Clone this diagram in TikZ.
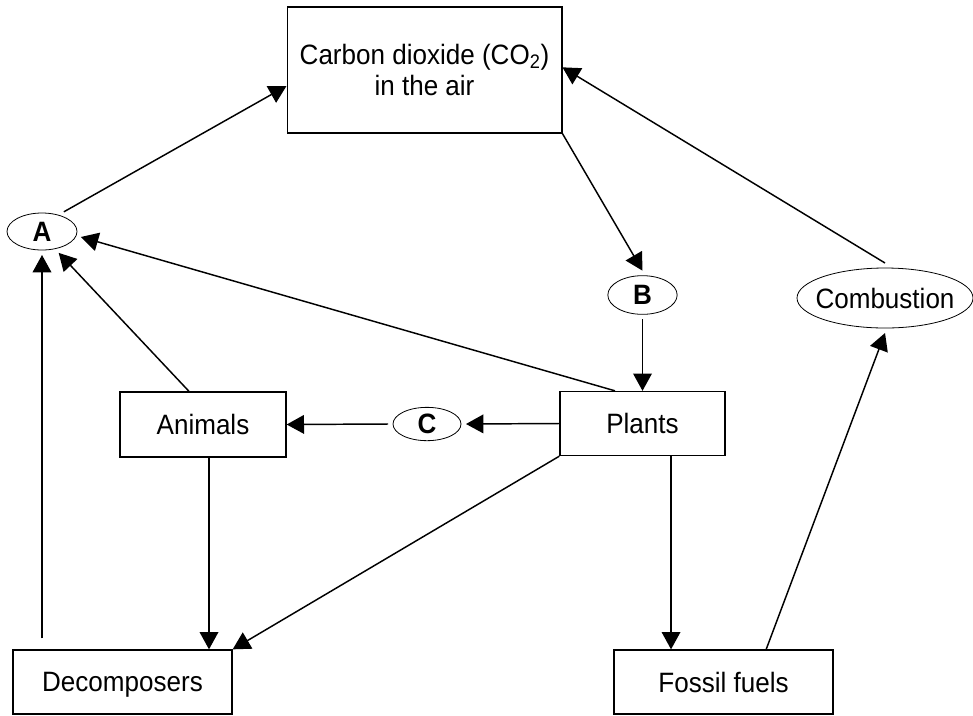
\documentclass[tikz,border=0pt]{standalone}
\usepackage{fontspec}
\setmainfont{Liberation Sans}[FakeStretch=0.93]
\usetikzlibrary{arrows.meta,shapes.geometric}

\begin{document}
\begin{tikzpicture}[x=0.75pt,y=-0.75pt,
  font=\fontsize{21}{23.25}\selectfont,
  box/.style={draw,line width=1pt,rectangle,inner sep=0pt,align=center,text depth=0pt},
  bubble/.style={draw,line width=0.6pt,ellipse,inner sep=0pt,outer sep=3.75pt},
  letter/.style={font=\fontsize{21}{23.25}\selectfont\bfseries},
  flow/.style={line width=1.1pt,-{Triangle[length=13pt,width=14pt]}}]
  \useasboundingbox (0,0) rectangle (973,715);
  % stores and processes
  \node[box,minimum width=206pt,minimum height=94.5pt] (co2) at (424.5,70) {Carbon dioxide (CO\textsubscript{2})\\in the air};
  \node[box,minimum width=124.5pt,minimum height=48.75pt] (animals) at (203,424.5) {Animals};
  \node[box,minimum width=123.75pt,minimum height=48pt] (plants) at (642.5,423.5) {Plants};
  \node[box,minimum width=164.25pt,minimum height=48pt] (decomp) at (122.5,682) {Decomposers};
  \node[box,minimum width=164.25pt,minimum height=48pt] (fossil) at (723.5,682) {Fossil fuels};
  \node[bubble,letter,minimum width=52.5pt,minimum height=27.75pt] (A) at (42,231.5) {A};
  \node[bubble,letter,minimum width=52pt,minimum height=29pt] (B) at (642.5,295) {B};
  \node[bubble,letter,minimum width=51pt,minimum height=25pt] (C) at (427,424) {C};
  \node[bubble,minimum width=132pt,minimum height=45pt] (comb) at (885,298) {\makebox[0pt]{Combustion}};

  % connector ends off the centre lines
  \coordinate (plants-up) at ([xshift=-20.6pt]plants.north);
  \coordinate (plants-down) at ([xshift=21.4pt]plants.south);
  \coordinate (animals-up) at ([xshift=-10.5pt]animals.north);
  \coordinate (animals-down) at ([xshift=4.5pt]animals.south);
  \coordinate (fossil-up) at ([xshift=32pt]fossil.north);

  \draw[flow] (A.42) -- ([yshift=-12pt]co2.west);
  \draw[flow] (co2.south east) -- (B.north);
  \draw[flow] (B.south) -- (B.south |- plants.north);
  \draw[flow] (comb.north) -- ([yshift=2pt]co2.east);
  \draw[flow] (plants-up) -- (A.-8);
  \draw[flow] (animals-up) -- (A.-52);
  \draw[flow,shorten <=8.25pt] (decomp.north -| A.south) -- (A.south);
  \draw[flow] (plants.west) -- (C.east);
  \draw[flow] (C.west) -- (animals.east);
  \draw[flow] (animals-down) -- (animals-down |- decomp.north);
  \draw[flow] (plants.south west) -- (decomp.north east);
  \draw[flow] (plants-down) -- (plants-down |- fossil.north);
  \draw[flow] (fossil-up) -- (comb.south);
\end{tikzpicture}
\end{document}
